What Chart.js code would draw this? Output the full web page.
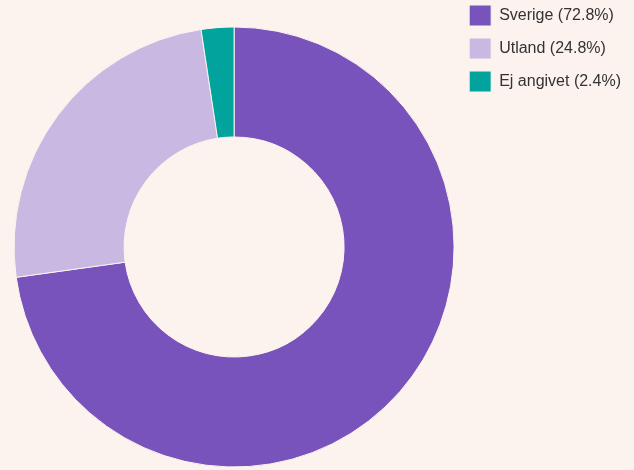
<!DOCTYPE html>
<html>
<head>
<meta charset="utf-8">
<script src="https://cdn.jsdelivr.net/npm/chart.js@4/dist/chart.umd.min.js"></script>
<style>
  html, body { margin: 0; padding: 0; background: #fcf3ee; }
  #wrap { width: 634px; height: 470px; }
</style>
</head>
<body>
<div id="wrap"><canvas id="myChart" width="634" height="470"></canvas></div>
<script>
// data
const categories = ["Sverige", "Utland", "Ej angivet"];
const shares = [72.8, 24.8, 2.4];
const sliceColors = ["#7853bc", "#c8b8e2", "#02a39d"];

const labels = categories.map((c, i) => c + " (" + shares[i].toFixed(1) + "%)");

const chartContainer = document.getElementById("myChart").getContext("2d");

// legend sits at the very top, doughnut is pushed down a bit
const legendUp = {
  id: "legendUp",
  afterLayout(chart) {
    chart.legend.top -= 31;
    chart.legend.bottom -= 31;
  },
};

const myChart = new Chart(chartContainer, {
  type: "doughnut",
  data: {
    labels: labels,
    datasets: [
      {
        data: shares,
        backgroundColor: sliceColors,
        borderColor: "#fcf3ee",
        borderWidth: 1,
      },
    ],
  },
  options: {
    responsive: false,
    animation: false,
    cutout: "50%",
    radius: 220,
    layout: {
      padding: { left: 11, top: 24, bottom: 0, right: 3 },
    },
    plugins: {
      tooltip: { enabled: false },
      legend: {
        position: "right",
        align: "start",
        labels: {
          boxWidth: 22,
          boxHeight: 21,
          padding: 12,
          color: "#333",
          font: { family: "'Liberation Sans', Arial, sans-serif", size: 16 },
        },
      },
    },
  },
  plugins: [legendUp],
});
</script>
</body>
</html>
